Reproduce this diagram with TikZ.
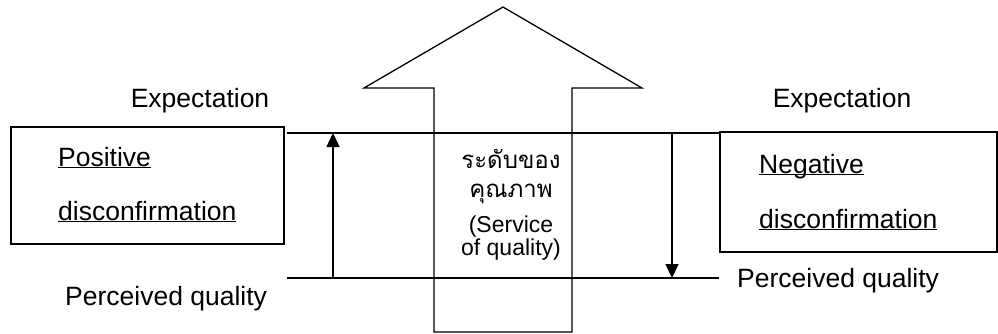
\documentclass[tikz,border=0pt]{standalone}
\usepackage{fontspec}
\setmainfont{Liberation Sans}
\newfontfamily\thaifont[Script=Thai]{Loma}
\usetikzlibrary{arrows.meta}
\newcommand\myul[1]{\underline{\smash{#1}}}
\begin{document}
\begin{tikzpicture}[x=1pt,y=-1pt,
  lbl/.style={inner sep=0pt,font=\fontsize{26.5}{30}\selectfont},
  ctr/.style={inner sep=0pt,font=\fontsize{23}{27}\selectfont},
  thai/.style={inner sep=0pt,font=\thaifont\fontsize{24}{28}\selectfont},
  box/.style={draw,line width=1.8pt,inner sep=0pt},
  ln/.style={line width=1.3pt},
  vec/.style={line width=1.3pt,-{Triangle[length=14pt,width=13pt]}}]
\useasboundingbox (0,0) rectangle (998,333);
% big arrow
\draw[ln] (434,332) -- (434,88) -- (364,88) -- (503,7) -- (642,88) -- (572,88) -- (572,332) -- cycle;
% boxes
\node[box,minimum width=273pt,minimum height=117pt] (lbox) at (147.5,185.5) {};
\node[box,minimum width=277pt,minimum height=120pt] (rbox) at (858.5,192) {};
% level coordinates
\coordinate (eL) at (287,133);
\coordinate (eR) at (rbox.west |- eL);
\coordinate (pL) at (287,278);
\coordinate (pR) at (719,278);
\coordinate (aB) at (333,278);
\coordinate (aT) at (333,133);
\coordinate (bT) at (672,133);
\coordinate (bB) at (672,278);
\draw[ln] (eL) -- (eR);
\draw[ln] (pL) -- (pR);
\draw[vec] (aB) -- (aT);
\draw[vec] (bT) -- (bB);
% labels
\node[lbl,anchor=base] (exl) at (200,107) {Expectation};
\node[lbl,anchor=base] (exr) at (842,107) {Expectation};
\node[lbl,anchor=base west] (pos) at (58,166) {\myul{Positive}};
\node[lbl,anchor=base west] (dcl) at (58,220) {\myul{disconfirmation}};
\node[lbl,anchor=base west] (neg) at (759,173) {\myul{Negative}};
\node[lbl,anchor=base west] (dcr) at (759,228) {\myul{disconfirmation}};
\node[lbl,anchor=base west] (pql) at (65,305) {Perceived quality};
\node[lbl,anchor=base west] (pqr) at (737,287) {Perceived quality};
\node[thai,anchor=base] (t1) at (511,168) {ระดับของ};
\node[thai,anchor=base] (t2) at (511,197) {คุณภาพ};
\node[ctr,anchor=base] (t3) at (511,232) {(Service};
\node[ctr,anchor=base] (t4) at (511,255) {of quality)};
\end{tikzpicture}
\end{document}
